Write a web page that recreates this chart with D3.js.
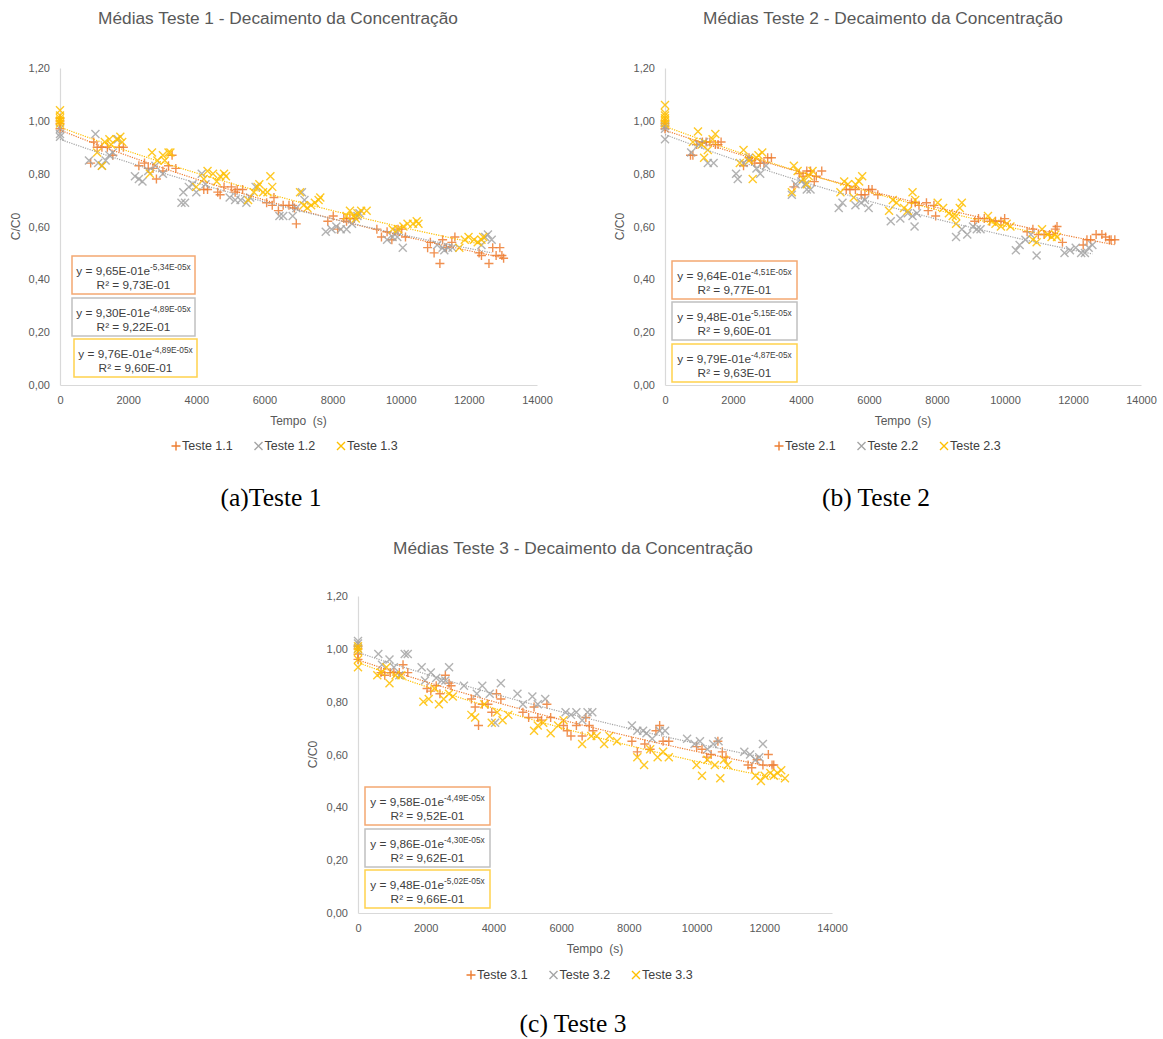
<!DOCTYPE html>
<html><head><meta charset="utf-8">
<script src="https://cdn.jsdelivr.net/npm/d3@7"></script>
<style>body{margin:0;background:#fff}svg{display:block}</style>
</head><body>
<svg id="c" width="1163" height="1039"></svg>
<script>
// ---------- DATA ----------
const xTicks = [0,2000,4000,6000,8000,10000,12000,14000];
const yTicks = [0,0.2,0.4,0.6,0.8,1.0,1.2];
const titles = ["Médias Teste 1 - Decaimento da Concentração","Médias Teste 2 - Decaimento da Concentração","Médias Teste 3 - Decaimento da Concentração"];
const captions = ["(a)Teste 1","(b) Teste 2","(c) Teste 3"];
const seriesNames1 = ["Teste 1.1","Teste 1.2","Teste 1.3"];
const seriesNames2 = ["Teste 2.1","Teste 2.2","Teste 2.3"];
const seriesNames3 = ["Teste 3.1","Teste 3.2","Teste 3.3"];

const teste11 = [[0,0.97],[0,0.99],[0,1.00],[0,1.01],[900,0.84],[990,0.92],[1090,0.90],[1230,0.90],[1390,0.90],[1550,0.87],[1740,0.90],[1860,0.90],
[2315,0.83],[2480,0.84],[2590,0.82],[2730,0.82],[2830,0.78],[3020,0.81],[3185,0.83],[3290,0.87],[3400,0.82],
[4220,0.74],[4330,0.74],[4630,0.73],[4700,0.72],[4815,0.75],[5030,0.75],[5140,0.73],[5200,0.74],[5360,0.74],
[6065,0.69],[6230,0.68],[6280,0.71],[6410,0.66],[6550,0.68],[6720,0.68],[6830,0.68],[6880,0.67],[6935,0.61],
[7860,0.62],[8020,0.64],[8150,0.59],[8330,0.63],[8410,0.62],[8510,0.63],[8640,0.63],
[9300,0.59],[9435,0.56],[9600,0.58],[9740,0.55],[9920,0.59],[10030,0.59],[10140,0.56],
[10790,0.52],[10870,0.54],[10980,0.50],[11150,0.46],[11230,0.55],[11340,0.52],[11500,0.54],[11590,0.56],
[12300,0.50],[12370,0.49],[12590,0.46],[12700,0.52],[12800,0.49],[12910,0.52],[12970,0.49],[13020,0.48]];
const teste12 = [[0,0.94],[0,0.95],[0,0.97],
[850,0.85],[1040,0.95],[1120,0.84],[1230,0.83],[1340,0.85],[1450,0.87],[1550,0.88],[1700,0.93],
[2200,0.79],[2315,0.78],[2420,0.77],[2590,0.81],[2800,0.83],[3020,0.80],
[3565,0.69],[3670,0.69],[3620,0.73],[3780,0.75],[3890,0.76],[4000,0.73],[4160,0.80],[4270,0.76],
[4980,0.71],[5140,0.70],[5300,0.70],[5470,0.69],[5580,0.71],[5740,0.75],
[6440,0.64],[6550,0.64],[6830,0.64],[6935,0.67],[7100,0.73],[7175,0.70],
[7800,0.58],[7970,0.59],[8110,0.60],[8240,0.59],[8410,0.59],[8570,0.61],[8730,0.64],[8790,0.65],
[9600,0.55],[9760,0.56],[9870,0.58],[9900,0.56],[10060,0.52],
[11070,0.53],[11230,0.52],[11280,0.51],[11390,0.52],[11520,0.52],
[12370,0.53],[12480,0.56],[12560,0.57],[12670,0.55]];
const teste13 = [[0,0.99],[0,1.00],[0,1.00],[0,1.01],[0,1.02],[0,1.04],
[1090,0.88],[1230,0.83],[1315,0.92],[1450,0.93],[1500,0.91],[1660,0.93],[1770,0.94],[1825,0.92],
[2640,0.80],[2700,0.88],[2860,0.85],[3020,0.87],[3075,0.85],[3185,0.88],[3240,0.88],
[4000,0.75],[4220,0.78],[4330,0.81],[4490,0.80],[4600,0.77],[4700,0.79],[4815,0.80],[4870,0.79],
[5520,0.70],[5690,0.73],[5800,0.75],[5850,0.76],[5960,0.73],[6090,0.73],[6175,0.79],[6230,0.75],
[7045,0.73],[7150,0.68],[7260,0.67],[7370,0.68],[7480,0.69],[7590,0.70],[7640,0.71],
[8410,0.64],[8510,0.66],[8620,0.64],[8680,0.63],[8730,0.65],[8840,0.66],[9000,0.66],
[9760,0.59],[9920,0.59],[10080,0.60],[10200,0.61],[10360,0.61],[10470,0.62],[10520,0.61],
[11720,0.52],[11880,0.55],[11990,0.56],[12150,0.55],[12260,0.54],[12370,0.55],[12420,0.56]];

const teste21 = [[0,0.97],[0,0.98],[0,0.99],[0,1.00],
[750,0.87],[820,0.87],[930,0.91],[1100,0.92],[1210,0.92],[1320,0.92],[1480,0.91],[1560,0.91],[1650,0.92],
[2310,0.83],[2470,0.86],[2550,0.85],[2640,0.84],[2800,0.84],[2910,0.84],[3020,0.86],[3130,0.86],
[3790,0.75],[3950,0.80],[4060,0.79],[4170,0.81],[4280,0.81],[4390,0.77],[4450,0.79],[4610,0.81],
[5330,0.74],[5440,0.74],[5600,0.74],[5770,0.72],[5880,0.72],[5990,0.74],[6090,0.74],[6260,0.72],
[7250,0.69],[7360,0.69],[7470,0.68],[7690,0.69],[7740,0.66],[7910,0.68],[7960,0.64],
[9110,0.62],[9220,0.63],[9390,0.63],[9550,0.62],[9720,0.62],[9880,0.62],[9990,0.63],
[10650,0.58],[10820,0.59],[10980,0.57],[11150,0.57],[11310,0.57],[11480,0.59],[11530,0.60],[11690,0.54],
[12300,0.53],[12410,0.55],[12520,0.55],[12680,0.57],[12850,0.57],[12960,0.56],[13070,0.55],[13120,0.55],[13230,0.55]];
const teste22 = [[0,0.93],[0,0.97],[0,0.98],
[770,0.88],[990,0.91],[1150,0.92],[1260,0.84],[1430,0.84],
[2090,0.80],[2140,0.78],[2310,0.84],[2470,0.86],[2690,0.82],[2800,0.80],[2970,0.83],
[3730,0.72],[3840,0.76],[4010,0.77],[4120,0.76],[4170,0.74],[4280,0.74],
[5110,0.67],[5220,0.69],[5600,0.68],[5770,0.69],[5880,0.70],[5990,0.67],
[6640,0.62],[6920,0.63],[7140,0.65],[7280,0.64],[7340,0.60],[7410,0.65],
[8560,0.56],[8730,0.59],[8890,0.57],[9060,0.60],[9170,0.59],[9280,0.59],
[10320,0.51],[10430,0.53],[10600,0.55],[10760,0.57],[10930,0.49],
[11750,0.50],[11910,0.51],[12080,0.52],[12240,0.50],[12350,0.50],[12460,0.52],[12570,0.53]];
const teste23 = [[0,0.99],[0,1.00],[0,1.01],[0,1.02],[0,1.03],[0,1.06],
[820,0.92],[970,0.96],[1080,0.91],[1150,0.86],[1260,0.89],[1400,0.93],[1480,0.95],
[2200,0.84],[2310,0.89],[2470,0.85],[2580,0.78],[2690,0.86],[2750,0.87],[2860,0.88],
[3730,0.73],[3790,0.83],[3900,0.81],[4060,0.78],[4170,0.76],[4230,0.79],[4340,0.81],
[5160,0.73],[5270,0.77],[5380,0.76],[5550,0.71],[5600,0.76],[5710,0.77],[5800,0.79],
[6590,0.66],[6700,0.70],[6810,0.69],[7030,0.67],[7140,0.66],[7280,0.73],[7360,0.70],
[8020,0.69],[8180,0.67],[8350,0.65],[8460,0.64],[8560,0.61],[8560,0.64],[8670,0.67],[8730,0.69],
[9500,0.64],[9610,0.62],[9720,0.61],[9880,0.60],[10050,0.61],[10160,0.60],
[10820,0.55],[10930,0.54],[11090,0.59],[11260,0.57],[11370,0.56],[11480,0.57],[11530,0.56]];

const teste31 = [[0,0.96],[0,0.98],[0,1.00],[0,1.01],
[680,0.91],[790,0.90],[950,0.91],[1060,0.91],[1220,0.91],[1330,0.94],[1470,0.91],
[2040,0.85],[2150,0.84],[2310,0.86],[2420,0.83],[2580,0.90],[2690,0.87],[2750,0.86],
[3350,0.81],[3460,0.78],[3560,0.71],[3670,0.79],[3840,0.79],[3950,0.76],[4090,0.83],[4220,0.81],
[4870,0.76],[5040,0.74],[5200,0.78],[5310,0.74],[5420,0.73],[5580,0.79],[5690,0.74],
[6070,0.71],[6180,0.69],[6290,0.67],[6450,0.71],[6620,0.67],[6730,0.74],[6830,0.71],[6940,0.69],
[8090,0.65],[8250,0.61],[8470,0.64],[8630,0.62],[8800,0.69],[8910,0.71],[9010,0.65],[9180,0.65],
[10000,0.63],[10160,0.62],[10300,0.59],[10430,0.60],[10630,0.65],[10760,0.61],[10870,0.59],
[11520,0.56],[11630,0.55],[11790,0.58],[11960,0.56],[12120,0.60],[12230,0.56],[12280,0.56]];
const teste32 = [[0,1.00],[0,1.02],[0,1.03],
[600,0.98],[710,0.94],[930,0.96],[1060,0.93],[1220,0.90],[1380,0.98],[1470,0.98],
[1880,0.93],[1980,0.88],[2150,0.91],[2310,0.89],[2470,0.88],[2580,0.88],[2690,0.93],
[3130,0.86],[3510,0.83],[3670,0.86],[3890,0.83],[4050,0.72],[4220,0.87],
[4710,0.83],[4870,0.79],[5150,0.82],[5310,0.79],[5530,0.81],
[6130,0.76],[6290,0.75],[6450,0.76],[6620,0.73],[6780,0.76],[6920,0.76],
[8090,0.71],[8250,0.69],[8420,0.69],[8520,0.68],[8690,0.66],[8910,0.69],[9070,0.69],
[9720,0.66],[9940,0.64],[10100,0.65],[10320,0.62],[10490,0.64],[10650,0.65],
[11410,0.61],[11580,0.60],[11740,0.58],[11850,0.59],[11960,0.64]];
const teste33 = [[0,0.93],[0,0.96],[0,0.99],[0,1.00],[0,1.01],
[570,0.90],[680,0.91],[840,0.93],[930,0.87],[1110,0.90],[1280,0.90],
[1930,0.80],[2090,0.81],[2260,0.85],[2390,0.79],[2530,0.81],[2690,0.83],[2800,0.82],
[3350,0.75],[3460,0.74],[3730,0.79],[3950,0.72],[4110,0.76],[4270,0.73],[4440,0.75],
[5200,0.69],[5310,0.71],[5470,0.72],[5690,0.68],[5910,0.71],[6070,0.73],
[6620,0.64],[6890,0.67],[7050,0.67],[7270,0.64],[7430,0.67],[7650,0.65],
[8250,0.59],[8450,0.56],[8630,0.62],[8850,0.59],[9010,0.61],[9180,0.59],
[10000,0.56],[10160,0.52],[10320,0.58],[10540,0.56],[10700,0.51],[10810,0.58],[10920,0.56],
[11740,0.52],[11900,0.50],[12010,0.52],[12180,0.53],[12280,0.52],[12390,0.53],[12500,0.54],[12610,0.51]];

// exponential trendline parameters (y = a * e^(b x)) and their labels
const fitA1 = [0.965, 0.930, 0.976], fitB1 = [-5.34e-5, -4.89e-5, -4.89e-5];
const fitA2 = [0.964, 0.948, 0.979], fitB2 = [-4.51e-5, -5.15e-5, -4.87e-5];
const fitA3 = [0.958, 0.986, 0.948], fitB3 = [-4.49e-5, -4.30e-5, -5.02e-5];
const eqBase1 = ["y = 9,65E-01e","y = 9,30E-01e","y = 9,76E-01e"], eqExp1 = ["-5,34E-05x","-4,89E-05x","-4,89E-05x"], r2Lab1 = ["9,73E-01","9,22E-01","9,60E-01"];
const eqBase2 = ["y = 9,64E-01e","y = 9,48E-01e","y = 9,79E-01e"], eqExp2 = ["-4,51E-05x","-5,15E-05x","-4,87E-05x"], r2Lab2 = ["9,77E-01","9,60E-01","9,63E-01"];
const eqBase3 = ["y = 9,58E-01e","y = 9,86E-01e","y = 9,48E-01e"], eqExp3 = ["-4,49E-05x","-4,30E-05x","-5,02E-05x"], r2Lab3 = ["9,52E-01","9,62E-01","9,66E-01"];

// ---------- STYLE / LAYOUT ----------
const colors = ["#ED7D31","#A5A5A5","#FFC000"];
const boxColors = ["#F4A872","#C0C0C0","#FFD24D"];
const FONT = "'Liberation Sans', Arial, sans-serif";
const svg = d3.select("#c");

const panels = [
  {x0:60, x1:537, yt:68, yb:385, title:titles[0], tx:278, ty:18, cap:captions[0], cx:271, cy:497,
   names:seriesNames1, data:[teste11,teste12,teste13], A:fitA1, B:fitB1, eb:eqBase1, ee:eqExp1, r2:r2Lab1,
   boxes:[[72,256,123,38],[72,298,123,38],[74,339,123,38]], lx:176, ly:446, yl:16},
  {x0:665, x1:1141, yt:68, yb:385, title:titles[1], tx:883, ty:18, cap:captions[1], cx:876, cy:497,
   names:seriesNames2, data:[teste21,teste22,teste23], A:fitA2, B:fitB2, eb:eqBase2, ee:eqExp2, r2:r2Lab2,
   boxes:[[672,261,125,38],[672,302,125,38],[672,344,125,38]], lx:779, ly:446, yl:620},
  {x0:358, x1:832, yt:596, yb:913, title:titles[2], tx:573, ty:548, cap:captions[2], cx:573, cy:1023,
   names:seriesNames3, data:[teste31,teste32,teste33], A:fitA3, B:fitB3, eb:eqBase3, ee:eqExp3, r2:r2Lab3,
   boxes:[[365,787,125,38],[365,829,125,38],[365,870,125,38]], lx:471, ly:975, yl:313}
];

const plusPath = "M-4.5,0H4.5M0,-4.5V4.5";
const crossPath = "M-4,-4L4,4M-4,4L4,-4";
const markerPath = [plusPath, crossPath, crossPath];

panels.forEach(p => {
  const g = svg.append("g");
  const x = d3.scaleLinear().domain([0,14000]).range([p.x0,p.x1]);
  const y = d3.scaleLinear().domain([0,1.2]).range([p.yb,p.yt]);

  // title
  g.append("text").attr("x",p.tx).attr("y",p.ty).attr("text-anchor","middle").attr("dominant-baseline","central")
    .attr("font-family",FONT).attr("font-size",17.3).attr("fill","#595959").text(p.title);

  // axes
  const ya = g.append("g").attr("transform",`translate(${p.x0},0)`)
    .call(d3.axisLeft(y).tickValues(yTicks).tickSize(0).tickPadding(10).tickFormat(d=>d.toFixed(2).replace(".",",")));
  const xa = g.append("g").attr("transform",`translate(0,${p.yb})`)
    .call(d3.axisBottom(x).tickValues(xTicks).tickSize(0).tickPadding(11).tickFormat(d=>String(d)));
  [ya,xa].forEach(a=>{
    a.select(".domain").attr("stroke","#D9D9D9").attr("stroke-width",1.2);
    a.selectAll("text").attr("font-family",FONT).attr("font-size",11).attr("fill","#595959");
  });

  // axis titles
  g.append("text").attr("x",(p.x0+p.x1)/2).attr("y",p.yb+36).attr("text-anchor","middle").attr("dominant-baseline","central")
    .attr("font-family",FONT).attr("font-size",12).attr("fill","#595959").attr("xml:space","preserve").text("Tempo  (s)");
  g.append("text").attr("transform",`translate(${p.yl},${(p.yt+p.yb)/2}) rotate(-90)`).attr("text-anchor","middle").attr("dominant-baseline","central")
    .attr("font-family",FONT).attr("font-size",12).attr("fill","#595959").text("C/C0");

  // markers
  p.data.forEach((ser,i)=>{
    g.append("g").selectAll("path").data(ser).join("path")
      .attr("transform",d=>`translate(${x(d[0])},${y(d[1])})`)
      .attr("d",markerPath[i]).attr("fill","none").attr("stroke",colors[i])
      .attr("stroke-width",1.4).attr("stroke-opacity",0.85);
  });

  // trendlines
  p.data.forEach((ser,i)=>{
    const tMax = d3.max(ser,d=>d[0]);
    const pts = d3.range(0,tMax+1,tMax/60).map(t=>[t,p.A[i]*Math.exp(p.B[i]*t)]);
    g.append("path").datum(pts)
      .attr("d",d3.line().x(d=>x(d[0])).y(d=>y(d[1])))
      .attr("fill","none").attr("stroke",colors[i]).attr("stroke-width",1.2).attr("stroke-dasharray","1.2,1.2");
  });

  // equation boxes
  p.boxes.forEach((b,i)=>{
    const bg = g.append("g");
    bg.append("rect").attr("x",b[0]).attr("y",b[1]).attr("width",b[2]).attr("height",b[3])
      .attr("fill","#fff").attr("stroke",boxColors[i]).attr("stroke-width",1.5);
    const cx = b[0]+b[2]/2;
    const t1 = bg.append("text").attr("x",cx).attr("y",b[1]+15).attr("text-anchor","middle").attr("dominant-baseline","central")
      .attr("font-family",FONT).attr("font-size",11.8).attr("fill","#404040");
    t1.append("tspan").text(p.eb[i]);
    t1.append("tspan").attr("font-size",8.3).attr("dy",-4).text(p.ee[i]);
    bg.append("text").attr("x",cx).attr("y",b[1]+29).attr("text-anchor","middle").attr("dominant-baseline","central")
      .attr("font-family",FONT).attr("font-size",11.8).attr("fill","#404040").text("R² = "+p.r2[i]);
  });

  // legend
  p.names.forEach((n,i)=>{
    const lx = p.lx + i*82.5;
    g.append("path").attr("transform",`translate(${lx},${p.ly})`).attr("d",markerPath[i])
      .attr("fill","none").attr("stroke",colors[i]).attr("stroke-width",1.4);
    g.append("text").attr("x",lx+6).attr("y",p.ly).attr("dominant-baseline","central")
      .attr("font-family",FONT).attr("font-size",12.5).attr("fill","#404040").text(n);
  });

  // caption
  svg.append("text").attr("x",p.cx).attr("y",p.cy).attr("text-anchor","middle").attr("dominant-baseline","central")
    .attr("font-family","'Liberation Serif', 'Times New Roman', serif").attr("font-size",25.5).attr("fill","#000").text(p.cap);
});
</script>
</body></html>
